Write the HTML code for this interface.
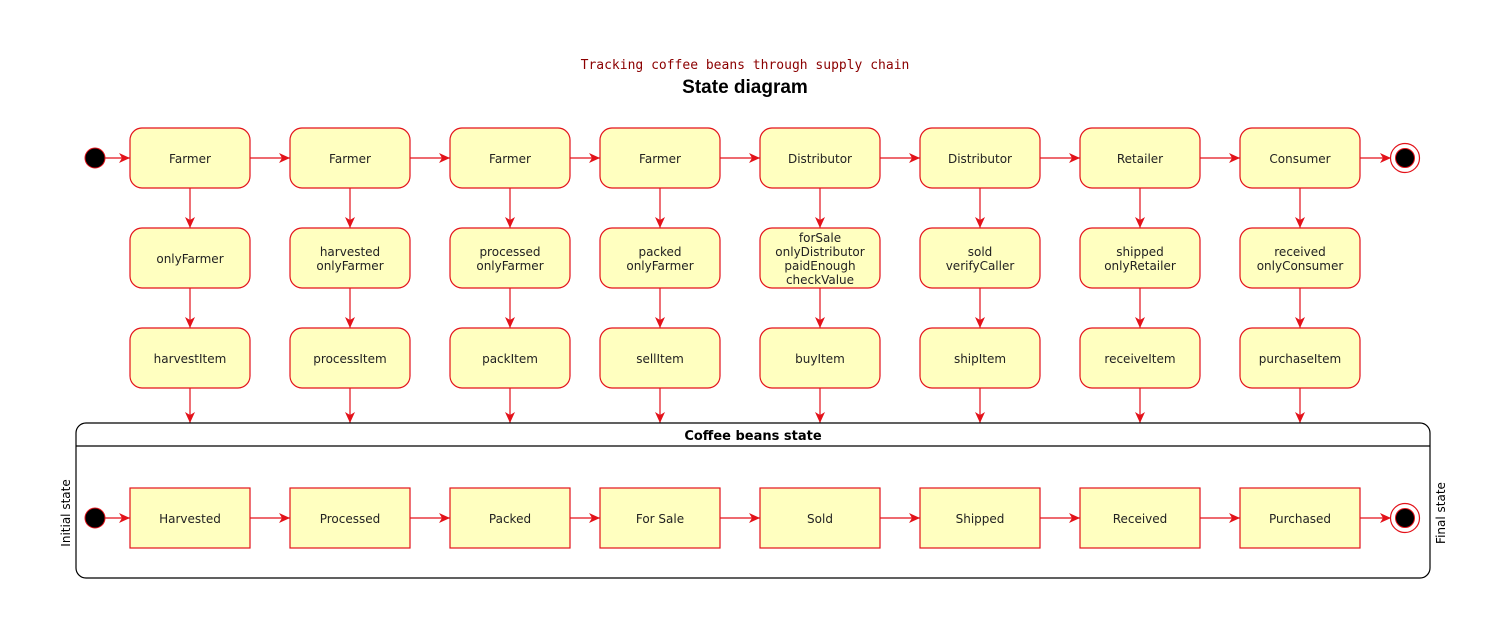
<!DOCTYPE html>
<html><head><meta charset="utf-8"><style>
html,body{margin:0;padding:0;background:#fff;}
svg text{font-family:"DejaVu Sans","Liberation Sans",sans-serif;}
</style></head><body>
<svg width="1506" height="629" viewBox="0 0 1506 629" xmlns="http://www.w3.org/2000/svg">
<defs><marker id="a" markerWidth="12" markerHeight="10" refX="11" refY="5" orient="auto" markerUnits="userSpaceOnUse"><path d="M0,0 L11,5 L0,10 L3,5 Z" fill="#e3121a"/></marker></defs>
<rect width="1506" height="629" fill="#fff"/>
<text x="745" y="69" text-anchor="middle" font-size="13" fill="#8b0000" style="font-family:'DejaVu Sans Mono','Liberation Mono',monospace">Tracking coffee beans through supply chain</text>
<text x="745" y="93" text-anchor="middle" font-size="19" font-weight="bold" fill="#000" style="font-family:'Liberation Sans',sans-serif">State diagram</text>
<g stroke="#e3121a" stroke-width="1.2" fill="none" marker-end="url(#a)">
<line x1="105" y1="158" x2="130" y2="158"/>
<line x1="250" y1="158" x2="290" y2="158"/>
<line x1="410" y1="158" x2="450" y2="158"/>
<line x1="570" y1="158" x2="600" y2="158"/>
<line x1="720" y1="158" x2="760" y2="158"/>
<line x1="880" y1="158" x2="920" y2="158"/>
<line x1="1040" y1="158" x2="1080" y2="158"/>
<line x1="1200" y1="158" x2="1240" y2="158"/>
<line x1="1360" y1="158" x2="1391" y2="158"/>
<line x1="105" y1="518" x2="130" y2="518"/>
<line x1="250" y1="518" x2="290" y2="518"/>
<line x1="410" y1="518" x2="450" y2="518"/>
<line x1="570" y1="518" x2="600" y2="518"/>
<line x1="720" y1="518" x2="760" y2="518"/>
<line x1="880" y1="518" x2="920" y2="518"/>
<line x1="1040" y1="518" x2="1080" y2="518"/>
<line x1="1200" y1="518" x2="1240" y2="518"/>
<line x1="1360" y1="518" x2="1391" y2="518"/>
<g id="v">
<line x1="190" y1="188" x2="190" y2="228"/><line x1="190" y1="288" x2="190" y2="328"/><line x1="190" y1="388" x2="190" y2="423"/>
</g>
<use href="#v" x="160"/><use href="#v" x="320"/><use href="#v" x="470"/><use href="#v" x="630"/><use href="#v" x="790"/><use href="#v" x="950"/><use href="#v" x="1110"/>
</g>
<g fill="#000" stroke="#e3121a" stroke-width="1">
<circle cx="95" cy="158" r="10"/><circle cx="95" cy="518" r="10"/>
<circle cx="1405" cy="158" r="9.5"/><circle cx="1405" cy="518" r="9.5"/>
</g>
<g fill="none" stroke="#e3121a" stroke-width="1.2"><circle cx="1405" cy="158" r="14.5"/><circle cx="1405" cy="518" r="14.5"/></g>
<rect x="76" y="423" width="1354" height="155" rx="10" fill="none" stroke="#000" stroke-width="1.2"/>
<line x1="76" y1="446" x2="1430" y2="446" stroke="#000" stroke-width="1.2"/>
<text x="753" y="440" text-anchor="middle" font-size="13" font-weight="bold">Coffee beans state</text>
<text transform="translate(70,513) rotate(-90)" text-anchor="middle" font-size="12">Initial state</text>
<text transform="translate(1445,513) rotate(-90)" text-anchor="middle" font-size="12">Final state</text>
<g fill="#ffffc0" stroke="#e3121a" stroke-width="1.2">
<rect x="130" y="128" width="120" height="60" rx="12"/><rect x="290" y="128" width="120" height="60" rx="12"/><rect x="450" y="128" width="120" height="60" rx="12"/><rect x="600" y="128" width="120" height="60" rx="12"/><rect x="760" y="128" width="120" height="60" rx="12"/><rect x="920" y="128" width="120" height="60" rx="12"/><rect x="1080" y="128" width="120" height="60" rx="12"/><rect x="1240" y="128" width="120" height="60" rx="12"/>
<rect x="130" y="228" width="120" height="60" rx="12"/><rect x="290" y="228" width="120" height="60" rx="12"/><rect x="450" y="228" width="120" height="60" rx="12"/><rect x="600" y="228" width="120" height="60" rx="12"/><rect x="760" y="228" width="120" height="60" rx="12"/><rect x="920" y="228" width="120" height="60" rx="12"/><rect x="1080" y="228" width="120" height="60" rx="12"/><rect x="1240" y="228" width="120" height="60" rx="12"/>
<rect x="130" y="328" width="120" height="60" rx="12"/><rect x="290" y="328" width="120" height="60" rx="12"/><rect x="450" y="328" width="120" height="60" rx="12"/><rect x="600" y="328" width="120" height="60" rx="12"/><rect x="760" y="328" width="120" height="60" rx="12"/><rect x="920" y="328" width="120" height="60" rx="12"/><rect x="1080" y="328" width="120" height="60" rx="12"/><rect x="1240" y="328" width="120" height="60" rx="12"/>
<rect x="130" y="488" width="120" height="60"/><rect x="290" y="488" width="120" height="60"/><rect x="450" y="488" width="120" height="60"/><rect x="600" y="488" width="120" height="60"/><rect x="760" y="488" width="120" height="60"/><rect x="920" y="488" width="120" height="60"/><rect x="1080" y="488" width="120" height="60"/><rect x="1240" y="488" width="120" height="60"/>
</g>
<g font-size="12" text-anchor="middle" fill="#222">
<text x="190" y="163">Farmer</text><text x="350" y="163">Farmer</text><text x="510" y="163">Farmer</text><text x="660" y="163">Farmer</text><text x="820" y="163">Distributor</text><text x="980" y="163">Distributor</text><text x="1140" y="163">Retailer</text><text x="1300" y="163">Consumer</text>
<text x="190" y="263">onlyFarmer</text>
<text x="350" y="256">harvested</text><text x="350" y="270">onlyFarmer</text>
<text x="510" y="256">processed</text><text x="510" y="270">onlyFarmer</text>
<text x="660" y="256">packed</text><text x="660" y="270">onlyFarmer</text>
<text x="820" y="242">forSale</text><text x="820" y="256">onlyDistributor</text><text x="820" y="270">paidEnough</text><text x="820" y="284">checkValue</text>
<text x="980" y="256">sold</text><text x="980" y="270">verifyCaller</text>
<text x="1140" y="256">shipped</text><text x="1140" y="270">onlyRetailer</text>
<text x="1300" y="256">received</text><text x="1300" y="270">onlyConsumer</text>
<text x="190" y="363">harvestItem</text><text x="350" y="363">processItem</text><text x="510" y="363">packItem</text><text x="660" y="363">sellItem</text><text x="820" y="363">buyItem</text><text x="980" y="363">shipItem</text><text x="1140" y="363">receiveItem</text><text x="1300" y="363">purchaseItem</text>
<text x="190" y="523">Harvested</text><text x="350" y="523">Processed</text><text x="510" y="523">Packed</text><text x="660" y="523">For Sale</text><text x="820" y="523">Sold</text><text x="980" y="523">Shipped</text><text x="1140" y="523">Received</text><text x="1300" y="523">Purchased</text>
</g>
</svg>
</body></html>
